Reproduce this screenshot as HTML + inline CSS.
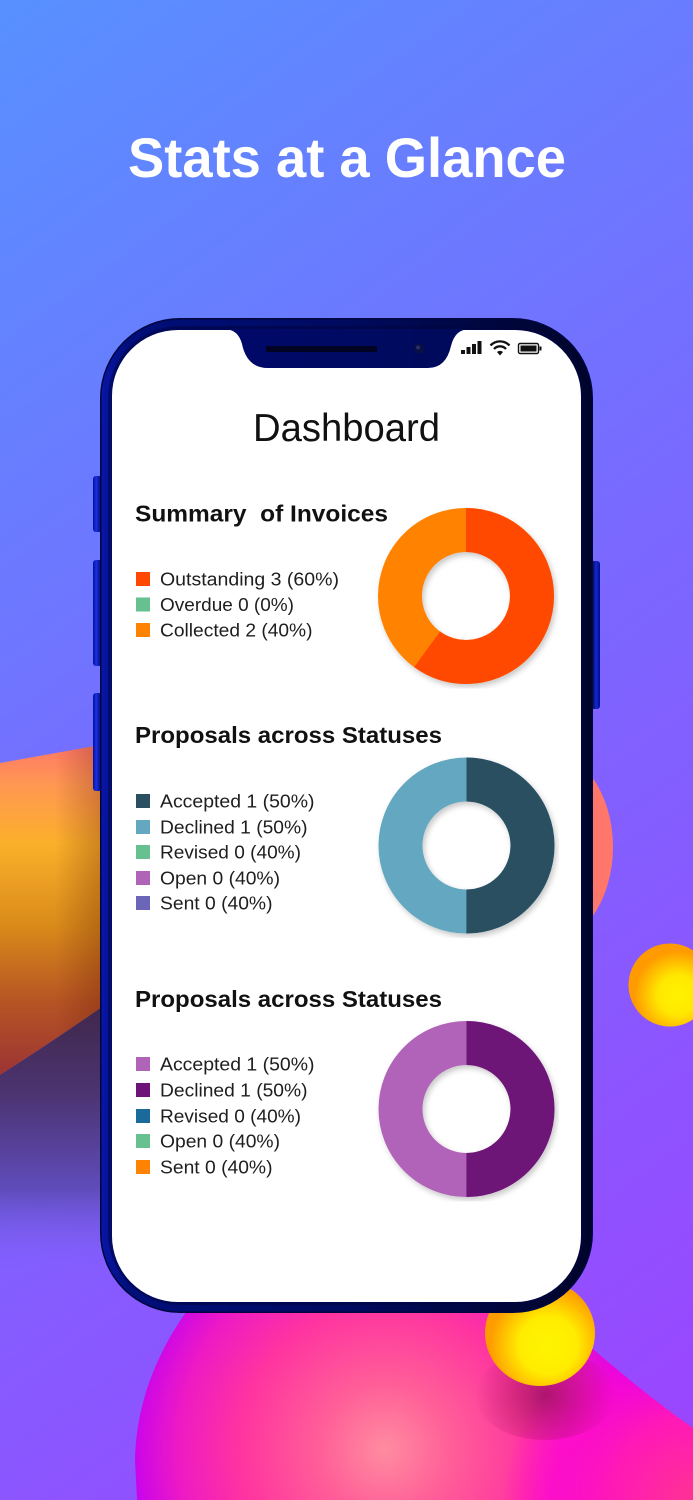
<!DOCTYPE html>
<html>
<head>
<meta charset="utf-8">
<style>
html,body{margin:0;padding:0;width:693px;height:1500px;overflow:hidden;background:#6f74ff;}
svg{display:block;}
text{font-family:"Liberation Sans",sans-serif;}
</style>
</head>
<body>
<svg width="693" height="1500" viewBox="0 0 693 1500" xmlns="http://www.w3.org/2000/svg">
<defs>
  <linearGradient id="bg" gradientUnits="userSpaceOnUse" x1="-120" y1="100" x2="813" y2="1400">
    <stop offset="0" stop-color="#5890ff"/>
    <stop offset="0.5" stop-color="#7a68ff"/>
    <stop offset="1" stop-color="#9c44ff"/>
  </linearGradient>
  <linearGradient id="orange" gradientUnits="userSpaceOnUse" x1="0" y1="745" x2="0" y2="1075">
    <stop offset="0" stop-color="#ff7868"/>
    <stop offset="0.12" stop-color="#ff9752"/>
    <stop offset="0.3" stop-color="#fbb02a"/>
    <stop offset="0.55" stop-color="#d98a1a"/>
    <stop offset="0.78" stop-color="#b55424"/>
    <stop offset="1" stop-color="#9c3434"/>
  </linearGradient>
  <linearGradient id="orangeShade" gradientUnits="userSpaceOnUse" x1="55" y1="0" x2="102" y2="0">
    <stop offset="0" stop-color="#5a1000" stop-opacity="0"/>
    <stop offset="1" stop-color="#5a1000" stop-opacity="0.28"/>
  </linearGradient>
  <linearGradient id="darkp" gradientUnits="userSpaceOnUse" x1="0" y1="1000" x2="0" y2="1270">
    <stop offset="0" stop-color="#3e2648"/>
    <stop offset="0.35" stop-color="#4c3472"/>
    <stop offset="0.7" stop-color="#5f4cba"/>
    <stop offset="1" stop-color="#7a62f6" stop-opacity="0"/>
  </linearGradient>
  <radialGradient id="yball1" gradientUnits="userSpaceOnUse" cx="678" cy="995" r="44">
    <stop offset="0" stop-color="#fff200"/>
    <stop offset="0.45" stop-color="#ffe800"/>
    <stop offset="0.85" stop-color="#ffb000"/>
    <stop offset="1" stop-color="#ff9a00"/>
  </radialGradient>
  <radialGradient id="yball2" gradientUnits="userSpaceOnUse" cx="548" cy="1345" r="58">
    <stop offset="0" stop-color="#fff500"/>
    <stop offset="0.5" stop-color="#ffec00"/>
    <stop offset="0.85" stop-color="#ffb400"/>
    <stop offset="1" stop-color="#ff9c00"/>
  </radialGradient>
  <radialGradient id="pink" gradientUnits="userSpaceOnUse" cx="385" cy="1450" r="265">
    <stop offset="0" stop-color="#ff8ca0"/>
    <stop offset="0.25" stop-color="#ff5e98"/>
    <stop offset="0.55" stop-color="#ff34a0"/>
    <stop offset="0.78" stop-color="#ee1ac4"/>
    <stop offset="0.92" stop-color="#d008e4"/>
    <stop offset="1" stop-color="#b800ff"/>
  </radialGradient>
  <radialGradient id="pinkR" gradientUnits="userSpaceOnUse" cx="693" cy="1500" r="190">
    <stop offset="0" stop-color="#ff3294"/>
    <stop offset="0.45" stop-color="#ff18b8"/>
    <stop offset="0.75" stop-color="#ff04d4" stop-opacity="0.7"/>
    <stop offset="1" stop-color="#ff00d8" stop-opacity="0"/>
  </radialGradient>
  <radialGradient id="ballShadow" gradientUnits="userSpaceOnUse" cx="545" cy="1395" r="70">
    <stop offset="0" stop-color="#7a0a40" stop-opacity="0.6"/>
    <stop offset="0.6" stop-color="#9a1050" stop-opacity="0.28"/>
    <stop offset="1" stop-color="#a01060" stop-opacity="0"/>
  </radialGradient>
  <linearGradient id="frame" gradientUnits="userSpaceOnUse" x1="100" y1="0" x2="593" y2="0">
    <stop offset="0" stop-color="#0a16a8"/>
    <stop offset="0.06" stop-color="#000e7a"/>
    <stop offset="0.5" stop-color="#000a5e"/>
    <stop offset="0.94" stop-color="#00052e"/>
    <stop offset="1" stop-color="#000328"/>
  </linearGradient>
  <linearGradient id="btn" gradientUnits="userSpaceOnUse" x1="93" y1="0" x2="101" y2="0">
    <stop offset="0" stop-color="#0010a0"/>
    <stop offset="0.4" stop-color="#1a30e0"/>
    <stop offset="1" stop-color="#00087a"/>
  </linearGradient>
  <linearGradient id="btnR" gradientUnits="userSpaceOnUse" x1="592" y1="0" x2="600" y2="0">
    <stop offset="0" stop-color="#00063a"/>
    <stop offset="0.5" stop-color="#1428d0"/>
    <stop offset="1" stop-color="#000c90"/>
  </linearGradient>
  <linearGradient id="notch" gradientUnits="userSpaceOnUse" x1="230" y1="0" x2="460" y2="0">
    <stop offset="0" stop-color="#00096a"/>
    <stop offset="1" stop-color="#000a5a"/>
  </linearGradient>
  <filter id="ds" x="-20%" y="-20%" width="140%" height="140%">
    <feDropShadow dx="2" dy="3" stdDeviation="3" flood-color="#000" flood-opacity="0.22"/>
  </filter>
</defs>

<!-- background -->
<rect x="0" y="0" width="693" height="1500" fill="url(#bg)"/>

<!-- left orange blob -->
<path d="M0,763 Q50,754 112,743 L112,1000 Q55,1040 0,1075 Z" fill="url(#orange)"/>
<path d="M0,763 Q50,754 112,743 L112,1000 Q55,1040 0,1075 Z" fill="url(#orangeShade)"/>
<!-- dark purple region under it -->
<path d="M0,1075 Q55,1040 112,1000 L112,1270 L0,1270 Z" fill="url(#darkp)"/>

<!-- right coral blob -->
<ellipse cx="540" cy="847" rx="73" ry="100" fill="#ff776a"/>

<!-- right yellow ball -->
<circle cx="670" cy="985" r="41.5" fill="url(#yball1)"/>

<!-- bottom pink blob -->
<path d="M195,1300 C160,1345 136,1400 135,1460 L137,1500 L693,1500 L693,1428 C650,1398 620,1372 588,1345 L540,1300 Z" fill="url(#pink)"/>
<path d="M195,1300 C160,1345 136,1400 135,1460 L137,1500 L693,1500 L693,1428 C650,1398 620,1372 588,1345 L540,1300 Z" fill="url(#pinkR)"/>
<ellipse cx="545" cy="1395" rx="70" ry="45" fill="url(#ballShadow)"/>

<!-- bottom yellow ball -->
<ellipse cx="540" cy="1333" rx="55" ry="53" fill="url(#yball2)"/>

<!-- title -->
<text x="128" y="177" font-size="56" font-weight="bold" fill="#ffffff" textLength="438" lengthAdjust="spacingAndGlyphs">Stats at a Glance</text>

<!-- side buttons -->
<rect x="93" y="476" width="9" height="56" rx="3" fill="url(#btn)"/>
<rect x="93" y="560" width="9" height="106" rx="3" fill="url(#btn)"/>
<rect x="93" y="693" width="9" height="98" rx="3" fill="url(#btn)"/>
<rect x="591" y="561" width="9" height="148" rx="3" fill="url(#btnR)"/>

<!-- phone frame -->
<rect x="100" y="318" width="493" height="995" rx="80" fill="#000640"/>
<rect x="101.5" y="319.5" width="490" height="992" rx="78.5" fill="url(#frame)"/>
<rect x="108" y="326" width="477" height="979" rx="72" fill="#000640" opacity="0.55"/>
<!-- screen -->
<rect x="112" y="330" width="469" height="972" rx="66" fill="#ffffff"/>

<!-- notch -->
<path d="M224,329 Q238,329 242,344 Q247,368 268,368 L428,368 Q446,368 451,346 Q455,329 470,329 Z" fill="url(#notch)"/>
<rect x="266" y="346" width="111" height="6" fill="#000322"/>
<circle cx="419" cy="348.5" r="5" fill="#0a1040"/>
<circle cx="418" cy="347.5" r="2" fill="#27306a"/>

<!-- status icons -->
<rect x="461" y="350" width="4" height="4" fill="#111"/>
<rect x="466.5" y="347" width="4" height="7" fill="#111"/>
<rect x="472" y="344" width="4" height="10" fill="#111"/>
<rect x="477.5" y="341" width="4" height="13" fill="#111"/>
<g fill="none" stroke="#111" stroke-width="2.3" stroke-linecap="butt">
  <path d="M490.5,345.5 A13,13 0 0 1 509.5,345.5"/>
  <path d="M494,349 A8,8 0 0 1 506,349"/>
</g>
<path d="M497,352 L500,355.5 L503,352 A4.5,4.5 0 0 0 497,352 Z" fill="#111"/>
<rect x="518.5" y="343.5" width="20" height="10" rx="1.5" fill="none" stroke="#111" stroke-width="1.4"/>
<rect x="520.5" y="345.5" width="16" height="6" fill="#111"/>
<rect x="539.5" y="346.5" width="2" height="4" fill="#111"/>

<!-- Dashboard heading -->
<text x="253" y="441" font-size="39" fill="#111" textLength="187" lengthAdjust="spacingAndGlyphs">Dashboard</text>

<!-- Section 1 -->
<text x="135" y="521.5" font-size="23.5" font-weight="bold" fill="#111" textLength="253" lengthAdjust="spacingAndGlyphs" xml:space="preserve">Summary  of Invoices</text>
<rect x="136" y="572" width="14" height="14" fill="#ff4800"/>
<text x="160" y="585.5" font-size="18.5" fill="#1e1e1e" textLength="179" lengthAdjust="spacingAndGlyphs">Outstanding 3 (60%)</text>
<rect x="136" y="597.5" width="14" height="14" fill="#66c08f"/>
<text x="160" y="611" font-size="18.5" fill="#1e1e1e" textLength="134" lengthAdjust="spacingAndGlyphs">Overdue 0 (0%)</text>
<rect x="136" y="623" width="14" height="14" fill="#ff8200"/>
<text x="160" y="636.5" font-size="18.5" fill="#1e1e1e" textLength="152.5" lengthAdjust="spacingAndGlyphs">Collected 2 (40%)</text>

<g filter="url(#ds)">
  <circle cx="466" cy="596" r="66" fill="none" stroke="#ff8200" stroke-width="44"/>
  <circle cx="466" cy="596" r="66" fill="none" stroke="#ff4800" stroke-width="44" stroke-dasharray="248.81 414.69" transform="rotate(-90 466 596)"/>
</g>

<!-- Section 2 -->
<text x="135" y="743" font-size="23.5" font-weight="bold" fill="#111" textLength="307" lengthAdjust="spacingAndGlyphs">Proposals across Statuses</text>
<rect x="136" y="794" width="14" height="14" fill="#2a4f60"/>
<text x="160" y="807.5" font-size="18.5" fill="#1e1e1e" textLength="154.5" lengthAdjust="spacingAndGlyphs">Accepted 1 (50%)</text>
<rect x="136" y="820" width="14" height="14" fill="#63a8c0"/>
<text x="160" y="833.5" font-size="18.5" fill="#1e1e1e" textLength="147.5" lengthAdjust="spacingAndGlyphs">Declined 1 (50%)</text>
<rect x="136" y="845" width="14" height="14" fill="#66c08f"/>
<text x="160" y="858.5" font-size="18.5" fill="#1e1e1e" textLength="141" lengthAdjust="spacingAndGlyphs">Revised 0 (40%)</text>
<rect x="136" y="871" width="14" height="14" fill="#b064b8"/>
<text x="160" y="884.5" font-size="18.5" fill="#1e1e1e" textLength="120" lengthAdjust="spacingAndGlyphs">Open 0 (40%)</text>
<rect x="136" y="896" width="14" height="14" fill="#6c66b8"/>
<text x="160" y="909.5" font-size="18.5" fill="#1e1e1e" textLength="112.5" lengthAdjust="spacingAndGlyphs">Sent 0 (40%)</text>

<g filter="url(#ds)">
  <circle cx="466.5" cy="845.5" r="66" fill="none" stroke="#63a8c0" stroke-width="44"/>
  <circle cx="466.5" cy="845.5" r="66" fill="none" stroke="#2a4f60" stroke-width="44" stroke-dasharray="207.35 414.69" transform="rotate(-90 466.5 845.5)"/>
</g>

<!-- Section 3 -->
<text x="135" y="1007" font-size="23.5" font-weight="bold" fill="#111" textLength="307" lengthAdjust="spacingAndGlyphs">Proposals across Statuses</text>
<rect x="136" y="1057" width="14" height="14" fill="#b064b8"/>
<text x="160" y="1070.5" font-size="18.5" fill="#1e1e1e" textLength="154.5" lengthAdjust="spacingAndGlyphs">Accepted 1 (50%)</text>
<rect x="136" y="1083" width="14" height="14" fill="#6e1478"/>
<text x="160" y="1096.5" font-size="18.5" fill="#1e1e1e" textLength="147.5" lengthAdjust="spacingAndGlyphs">Declined 1 (50%)</text>
<rect x="136" y="1109" width="14" height="14" fill="#1a6a9a"/>
<text x="160" y="1122.5" font-size="18.5" fill="#1e1e1e" textLength="141" lengthAdjust="spacingAndGlyphs">Revised 0 (40%)</text>
<rect x="136" y="1134" width="14" height="14" fill="#66c08f"/>
<text x="160" y="1147.5" font-size="18.5" fill="#1e1e1e" textLength="120" lengthAdjust="spacingAndGlyphs">Open 0 (40%)</text>
<rect x="136" y="1160" width="14" height="14" fill="#ff8200"/>
<text x="160" y="1173.5" font-size="18.5" fill="#1e1e1e" textLength="112.5" lengthAdjust="spacingAndGlyphs">Sent 0 (40%)</text>

<g filter="url(#ds)">
  <circle cx="466.5" cy="1109" r="66" fill="none" stroke="#b064b8" stroke-width="44"/>
  <circle cx="466.5" cy="1109" r="66" fill="none" stroke="#6e1478" stroke-width="44" stroke-dasharray="207.35 414.69" transform="rotate(-90 466.5 1109)"/>
</g>
</svg>
</body>
</html>
